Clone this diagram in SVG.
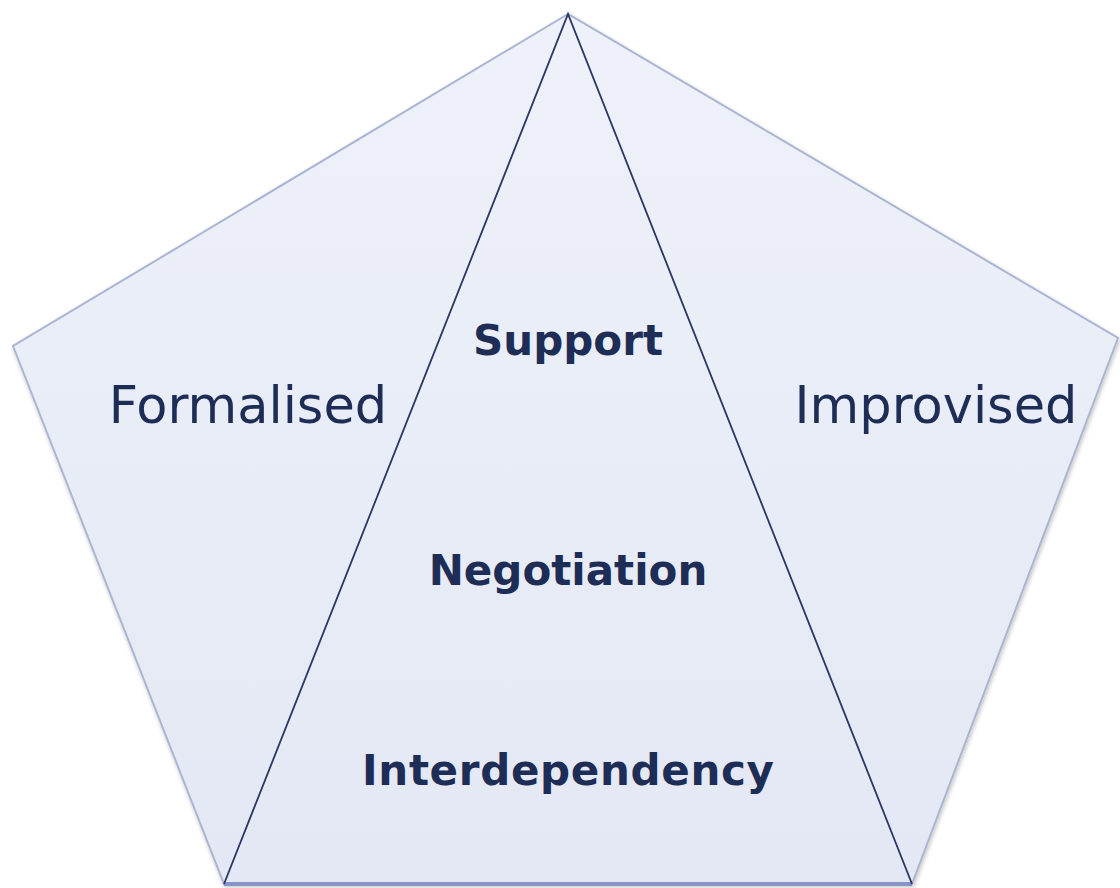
<svg xmlns="http://www.w3.org/2000/svg" width="1120" height="888" viewBox="0 0 1120 888">
<defs>
<linearGradient id="fill" x1="0" y1="0" x2="0" y2="1">
<stop offset="0" stop-color="#eef1f9"/>
<stop offset="1" stop-color="#e3e8f4"/>
</linearGradient>
<filter id="sh" x="-5%" y="-5%" width="110%" height="110%">
<feGaussianBlur in="SourceAlpha" stdDeviation="2"/>
<feOffset dx="1" dy="2"/>
<feComponentTransfer><feFuncA type="linear" slope="0.25"/></feComponentTransfer>
<feMerge><feMergeNode/><feMergeNode in="SourceGraphic"/></feMerge>
</filter>
</defs>
<style>
.side{font-family:"DejaVu Sans","Liberation Sans",sans-serif;font-size:51px;fill:#1e2d55;text-anchor:middle}
.mid{font-family:"DejaVu Sans","Liberation Sans",sans-serif;font-size:42px;font-weight:bold;fill:#1e2d55;text-anchor:middle}
.tri{fill:none;stroke:#2a3763;stroke-width:1.8}
</style>
<rect width="1120" height="888" fill="#ffffff"/>
<g id="pentagon">
<polygon points="568,14 13,346 224,884 912,884 1118,338" fill="url(#fill)" stroke="#aab5d2" stroke-width="2" filter="url(#sh)"/>
<line x1="224" y1="884" x2="912" y2="884" stroke="#8695c6" stroke-width="4"/>
</g>
<g id="connectors">
<polyline class="tri" points="224,884 568,14 912,884"/>
</g>
<g id="formalised"><text class="side" x="248" y="423">Formalised</text></g>
<g id="improvised"><text class="side" x="936" y="423">Improvised</text></g>
<g id="support"><text class="mid" x="568" y="355">Support</text></g>
<g id="negotiation"><text class="mid" x="568" y="585">Negotiation</text></g>
<g id="interdependency"><text class="mid" x="568" y="785" textLength="412" lengthAdjust="spacing">Interdependency</text></g>
</svg>
